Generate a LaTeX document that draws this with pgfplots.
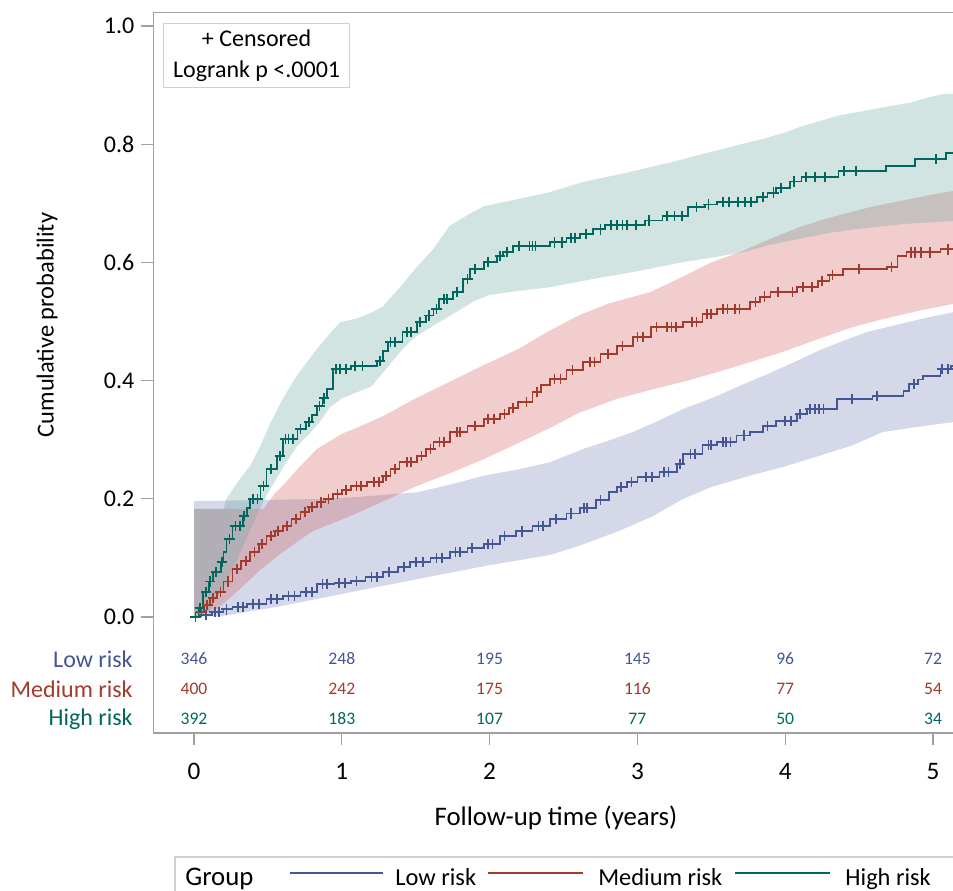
\documentclass[border=0pt]{standalone}
\usepackage{fontspec}
\setmainfont{Carlito}
\usepackage{pgfplots}
\pgfplotsset{compat=1.18}
\usepgfplotslibrary{fillbetween}
\definecolor{cBlue}{HTML}{445694}
\definecolor{cRed}{HTML}{A23A2E}
\definecolor{cGreen}{HTML}{01665E}
\definecolor{fBlue}{HTML}{6F7EB3}
\definecolor{fRed}{HTML}{D05B5B}
\definecolor{fGreen}{HTML}{66A5A0}
\definecolor{frameC}{HTML}{A0A0A0}
\definecolor{boxC}{HTML}{D0D0D0}
\tikzset{rk/.style={font=\fontsize{8.8}{10}\selectfont}}
\begin{document}
\begin{tikzpicture}
\begin{axis}[
  scale only axis, width=419.4pt, height=360.15pt,
  xmin=-0.2754, xmax=5.4, ymin=-0.19628, ymax=1.0225,
  xtick={0,1,2,3,4,5}, ytick={0,0.2,0.4,0.6,0.8,1.0},
  yticklabels={0.0,0.2,0.4,0.6,0.8,1.0},
  xtick pos=lower, ytick pos=left,
  tick align=outside, major tick length=6pt,
  tick style={draw=frameC, line width=0.6pt},
  axis line style={draw=frameC, line width=0.6pt},
  ticklabel style={font=\fontsize{12}{14}\selectfont},
  xticklabel style={yshift=-5.5pt, font=\fontsize{12.6}{14}\selectfont},
  /pgf/number format/assume math mode=true,
  clip=false,
]
% ---------------- confidence bands ----------------
\addplot[name path=bu, draw=none, forget plot] table {
x y
0 0.196
0.9 0.2
1.1 0.203
1.3 0.207
1.51 0.211
1.75 0.225
1.96 0.239
2.2 0.25
2.41 0.262
2.63 0.284
2.8 0.298
2.97 0.313
3.15 0.333
3.31 0.352
3.54 0.374
3.7 0.392
3.88 0.411
4.05 0.43
4.22 0.45
4.4 0.468
4.55 0.482
4.78 0.496
4.95 0.506
5.14 0.516
5.3 0.516
};
\addplot[name path=bl, draw=none, forget plot] table {
x y
0 0
0.2 0.002
0.6 0.019
1.06 0.042
1.51 0.064
1.96 0.086
2.41 0.105
2.6 0.12
2.86 0.144
3.1 0.17
3.31 0.2
3.5 0.22
3.76 0.239
4.0 0.255
4.22 0.272
4.45 0.29
4.66 0.313
4.9 0.322
5.14 0.33
5.3 0.33
};
\addplot[name path=ru, draw=none, forget plot] table {
x y
0 0.183
0.47 0.183
0.55 0.21
0.6 0.222
0.7 0.25
0.83 0.284
1.0 0.31
1.1 0.32
1.28 0.34
1.5 0.37
1.73 0.398
1.95 0.425
2.19 0.453
2.41 0.485
2.6 0.51
2.8 0.53
3.09 0.55
3.3 0.575
3.5 0.6
3.71 0.619
3.9 0.64
4.1 0.66
4.25 0.672
4.44 0.685
4.6 0.695
4.8 0.705
5.0 0.715
5.14 0.721
5.3 0.721
};
\addplot[name path=rl, draw=none, forget plot] table {
x y
0 0
0.16 0.014
0.3 0.045
0.45 0.08
0.6 0.11
0.8 0.145
1.06 0.171
1.3 0.198
1.51 0.222
1.75 0.245
1.96 0.267
2.2 0.295
2.41 0.32
2.6 0.345
2.86 0.369
3.1 0.385
3.31 0.398
3.55 0.415
3.76 0.431
4.0 0.45
4.22 0.47
4.45 0.49
4.66 0.504
4.9 0.518
5.14 0.53
5.3 0.53
};
\addplot[name path=gu, draw=none, forget plot] table {
x y
0 0.183
0.2 0.183
0.22 0.2
0.3 0.23
0.38 0.256
0.45 0.29
0.52 0.33
0.6 0.369
0.7 0.41
0.83 0.453
0.92 0.48
0.99 0.499
1.1 0.505
1.2 0.515
1.28 0.526
1.4 0.56
1.5 0.59
1.62 0.623
1.73 0.662
1.85 0.68
1.96 0.695
2.19 0.707
2.41 0.719
2.63 0.736
2.8 0.745
2.95 0.753
3.1 0.762
3.27 0.772
3.45 0.784
3.58 0.792
3.7 0.80
3.85 0.809
4.0 0.82
4.12 0.831
4.25 0.84
4.35 0.848
4.53 0.856
4.7 0.864
4.86 0.871
4.95 0.878
5.07 0.885
5.3 0.885
};
\addplot[name path=gl, draw=none, forget plot] table {
x y
0 0
0.1 0.01
0.2 0.05
0.28 0.09
0.35 0.13
0.42 0.17
0.5 0.21
0.56 0.235
0.62 0.26
0.7 0.29
0.78 0.31
0.85 0.33
0.92 0.355
1.0 0.37
1.1 0.38
1.2 0.39
1.3 0.42
1.4 0.45
1.5 0.475
1.6 0.49
1.7 0.505
1.8 0.52
1.9 0.535
2.0 0.545
2.2 0.552
2.41 0.558
2.7 0.572
3.0 0.585
3.3 0.6
3.5 0.608
3.71 0.617
3.9 0.63
4.1 0.64
4.3 0.65
4.5 0.657
4.8 0.665
5.14 0.67
5.3 0.67
};
\addplot[fill=fBlue, fill opacity=0.3, draw=none, forget plot] fill between[of=bu and bl];
\addplot[fill=fRed, fill opacity=0.3, draw=none, forget plot] fill between[of=ru and rl];
\addplot[fill=fGreen, fill opacity=0.3, draw=none, forget plot] fill between[of=gu and gl];
% ---------------- step curves ----------------
\addplot[const plot, cBlue, line width=0.9pt] table {
x y
0 0
0.04 0.003
0.12 0.008
0.2 0.013
0.26 0.017
0.36 0.022
0.49 0.030
0.6 0.036
0.72 0.042
0.83 0.056
0.95 0.058
1.06 0.061
1.16 0.068
1.28 0.076
1.38 0.085
1.46 0.093
1.6 0.10
1.73 0.110
1.85 0.117
1.96 0.124
2.07 0.137
2.18 0.145
2.29 0.154
2.41 0.166
2.52 0.175
2.61 0.184
2.72 0.198
2.81 0.211
2.86 0.220
2.93 0.228
3.00 0.237
3.15 0.245
3.27 0.259
3.31 0.276
3.44 0.291
3.54 0.296
3.67 0.307
3.76 0.313
3.85 0.323
3.94 0.332
4.08 0.343
4.15 0.352
4.35 0.369
4.59 0.374
4.80 0.383
4.84 0.394
4.90 0.402
4.93 0.408
5.05 0.420
5.12 0.425
5.3 0.425
};
\addplot[const plot, cRed, line width=0.9pt] table {
x y
0 0
0.03 0.008
0.07 0.02
0.11 0.032
0.156 0.042
0.2 0.06
0.26 0.081
0.32 0.095
0.38 0.110
0.44 0.124
0.49 0.137
0.55 0.146
0.60 0.154
0.66 0.166
0.72 0.178
0.78 0.186
0.83 0.194
0.89 0.2
0.94 0.208
1.0 0.215
1.06 0.222
1.17 0.228
1.28 0.239
1.33 0.25
1.39 0.262
1.51 0.272
1.57 0.284
1.62 0.296
1.73 0.313
1.85 0.323
1.96 0.335
2.07 0.343
2.13 0.354
2.19 0.364
2.29 0.381
2.35 0.392
2.41 0.403
2.52 0.418
2.63 0.431
2.75 0.445
2.86 0.459
2.97 0.474
3.09 0.491
3.31 0.499
3.44 0.513
3.54 0.521
3.76 0.533
3.83 0.542
3.90 0.550
4.08 0.558
4.22 0.569
4.30 0.579
4.39 0.589
4.69 0.592
4.76 0.611
4.82 0.617
5.05 0.622
5.14 0.628
5.3 0.628
};
\addplot[const plot, cGreen, line width=0.9pt] table {
x y
0 0
0.03 0.015
0.06 0.042
0.1 0.06
0.13 0.076
0.18 0.093
0.2 0.11
0.22 0.132
0.26 0.154
0.33 0.171
0.36 0.185
0.38 0.200
0.45 0.222
0.49 0.250
0.56 0.272
0.60 0.301
0.70 0.318
0.76 0.330
0.80 0.342
0.83 0.357
0.87 0.37
0.90 0.386
0.94 0.420
1.06 0.425
1.24 0.433
1.28 0.45
1.31 0.465
1.41 0.482
1.51 0.499
1.57 0.51
1.62 0.521
1.66 0.538
1.75 0.550
1.82 0.572
1.87 0.589
1.96 0.601
2.05 0.611
2.09 0.618
2.16 0.628
2.41 0.634
2.52 0.641
2.61 0.648
2.70 0.656
2.78 0.663
3.05 0.671
3.17 0.679
3.34 0.694
3.46 0.698
3.54 0.702
3.81 0.711
3.88 0.718
3.94 0.726
4.03 0.737
4.11 0.745
4.36 0.755
4.68 0.763
4.88 0.775
5.09 0.785
5.3 0.785
};
% ---------------- censored marks ----------------
\addplot[only marks, mark=+, mark size=2.6pt, cBlue, line width=0.85pt] table {
x y
0.08 0.003
0.14 0.008
0.17 0.008
0.22 0.013
0.3 0.017
0.33 0.017
0.4 0.022
0.44 0.022
0.52 0.030
0.56 0.030
0.64 0.036
0.68 0.036
0.76 0.042
0.8 0.042
0.87 0.056
0.9 0.056
0.98 0.058
1.02 0.058
1.1 0.061
1.2 0.068
1.24 0.068
1.32 0.076
1.42 0.085
1.5 0.093
1.55 0.093
1.64 0.10
1.68 0.10
1.77 0.110
1.8 0.110
1.88 0.117
1.99 0.124
2.02 0.124
2.1 0.137
2.22 0.145
2.33 0.154
2.36 0.154
2.45 0.166
2.55 0.175
2.64 0.184
2.66 0.184
2.75 0.198
2.89 0.220
2.96 0.228
3.06 0.237
3.1 0.237
3.18 0.245
3.21 0.245
3.29 0.259
3.36 0.276
3.39 0.276
3.48 0.291
3.5 0.291
3.58 0.296
3.6 0.296
3.63 0.296
3.72 0.307
3.88 0.323
4.0 0.332
4.04 0.332
4.1 0.343
4.17 0.352
4.2 0.352
4.23 0.352
4.26 0.352
4.45 0.369
4.62 0.374
4.87 0.394
5.06 0.420
5.1 0.420
};
\addplot[only marks, mark=+, mark size=2.6pt, cRed, line width=0.85pt] table {
x y
0.05 0.008
0.09 0.02
0.13 0.032
0.18 0.042
0.23 0.06
0.29 0.081
0.35 0.095
0.41 0.110
0.46 0.124
0.52 0.137
0.57 0.146
0.63 0.154
0.69 0.166
0.75 0.178
0.8 0.186
0.86 0.194
0.91 0.2
0.97 0.208
1.03 0.215
1.1 0.222
1.13 0.222
1.22 0.228
1.25 0.228
1.3 0.239
1.36 0.25
1.44 0.262
1.47 0.262
1.54 0.272
1.6 0.284
1.66 0.296
1.69 0.296
1.78 0.313
1.8 0.313
1.9 0.323
1.99 0.335
2.03 0.335
2.1 0.343
2.16 0.354
2.25 0.364
2.32 0.381
2.44 0.403
2.48 0.403
2.56 0.418
2.68 0.431
2.71 0.431
2.8 0.445
2.9 0.459
3.0 0.474
3.04 0.474
3.13 0.491
3.2 0.491
3.23 0.491
3.26 0.491
3.37 0.499
3.4 0.499
3.47 0.513
3.5 0.513
3.58 0.521
3.61 0.521
3.66 0.521
3.69 0.521
3.8 0.533
3.86 0.542
3.95 0.55
4.05 0.55
4.12 0.558
4.18 0.558
4.25 0.569
4.32 0.579
4.5 0.589
4.72 0.592
4.85 0.617
4.88 0.617
4.92 0.617
4.98 0.617
5.1 0.622
};
\addplot[only marks, mark=+, mark size=2.6pt, cGreen, line width=0.85pt] table {
x y
0.01 0
0.04 0.015
0.08 0.042
0.11 0.06
0.15 0.076
0.19 0.093
0.24 0.132
0.28 0.154
0.31 0.154
0.34 0.171
0.4 0.2
0.43 0.2
0.47 0.222
0.52 0.25
0.58 0.272
0.62 0.301
0.64 0.301
0.67 0.301
0.72 0.318
0.78 0.33
0.85 0.357
0.88 0.37
0.96 0.42
0.99 0.42
1.03 0.42
1.09 0.425
1.14 0.425
1.26 0.433
1.33 0.465
1.36 0.465
1.44 0.482
1.47 0.482
1.53 0.499
1.59 0.51
1.64 0.521
1.69 0.538
1.71 0.538
1.78 0.55
1.85 0.572
1.9 0.589
1.99 0.601
2.07 0.611
2.12 0.618
2.2 0.628
2.27 0.628
2.29 0.628
2.31 0.628
2.44 0.634
2.49 0.634
2.55 0.641
2.58 0.641
2.65 0.648
2.75 0.656
2.82 0.663
2.86 0.663
2.9 0.663
2.93 0.663
2.99 0.663
3.08 0.671
3.2 0.679
3.25 0.679
3.3 0.679
3.4 0.694
3.48 0.698
3.58 0.702
3.62 0.702
3.68 0.702
3.73 0.702
3.77 0.702
3.85 0.711
3.92 0.718
3.97 0.726
4.06 0.737
4.14 0.745
4.2 0.745
4.27 0.745
4.4 0.755
4.48 0.755
5.02 0.775
};
% ---------------- inset box ----------------
\node[anchor=north west, draw=boxC, line width=0.6pt, inner sep=0pt,
      minimum width=93pt, minimum height=32pt, align=center,
      font=\fontsize{12}{15.5}\selectfont] at (axis cs:-0.2097,1.0051)
      {+ Censored\\Logrank p <.0001};
% ---------------- at-risk table ----------------
\node[rk, cBlue] at (axis cs:0,-0.0711) {346};
\node[rk, cBlue] at (axis cs:1,-0.0711) {248};
\node[rk, cBlue] at (axis cs:2,-0.0711) {195};
\node[rk, cBlue] at (axis cs:3,-0.0711) {145};
\node[rk, cBlue] at (axis cs:4,-0.0711) {96};
\node[rk, cBlue] at (axis cs:5,-0.0711) {72};
\node[rk, cRed] at (axis cs:0,-0.1218) {400};
\node[rk, cRed] at (axis cs:1,-0.1218) {242};
\node[rk, cRed] at (axis cs:2,-0.1218) {175};
\node[rk, cRed] at (axis cs:3,-0.1218) {116};
\node[rk, cRed] at (axis cs:4,-0.1218) {77};
\node[rk, cRed] at (axis cs:5,-0.1218) {54};
\node[rk, cGreen] at (axis cs:0,-0.1726) {392};
\node[rk, cGreen] at (axis cs:1,-0.1726) {183};
\node[rk, cGreen] at (axis cs:2,-0.1726) {107};
\node[rk, cGreen] at (axis cs:3,-0.1726) {77};
\node[rk, cGreen] at (axis cs:4,-0.1726) {50};
\node[rk, cGreen] at (axis cs:5,-0.1726) {34};
\node[cBlue, anchor=east, inner sep=0pt, font=\fontsize{12}{14}\selectfont] at (axis cs:-0.4127,-0.0711) {Low risk};
\node[cRed, anchor=east, inner sep=0pt, font=\fontsize{12}{14}\selectfont] at (axis cs:-0.4127,-0.1218) {Medium risk};
\node[cGreen, anchor=east, inner sep=0pt, font=\fontsize{12}{14}\selectfont] at (axis cs:-0.4127,-0.1726) {High risk};
% ---------------- axis labels ----------------
\node[rotate=90, font=\fontsize{12.2}{14}\selectfont] at (axis cs:-0.9946,0.494) {Cumulative probability};
\node[font=\fontsize{13.4}{16}\selectfont] at (axis cs:2.449,-0.3401) {Follow-up time (years)};
% ---------------- legend ----------------
\draw[boxC, line width=0.6pt] (axis cs:-0.1286,-0.52) rectangle (axis cs:5.3,-0.4061);
\node[anchor=base west, inner sep=0pt, font=\fontsize{13.4}{16}\selectfont] at (axis cs:-0.0609,-0.4535) {Group};
\draw[cBlue, line width=0.8pt] (axis cs:0.6495,-0.4332) -- (axis cs:1.2788,-0.4332);
\node[anchor=base west, inner sep=0pt, font=\fontsize{12.2}{14}\selectfont] at (axis cs:1.36,-0.4535) {Low risk};
\draw[cRed, line width=0.8pt] (axis cs:1.989,-0.4332) -- (axis cs:2.632,-0.4332);
\node[anchor=base west, inner sep=0pt, font=\fontsize{12.2}{14}\selectfont] at (axis cs:2.733,-0.4535) {Medium risk};
\draw[cGreen, line width=0.8pt] (axis cs:3.66,-0.4332) -- (axis cs:4.303,-0.4332);
\node[anchor=base west, inner sep=0pt, font=\fontsize{12.2}{14}\selectfont] at (axis cs:4.405,-0.4535) {High risk};
\coordinate (bbTL) at (axis cs:-1.3126,1.044);
\coordinate (bbBR) at (axis cs:5.1353,-0.4619);
\end{axis}
\pgfresetboundingbox
\path[use as bounding box] (bbTL) rectangle (bbBR);
\end{tikzpicture}
\end{document}
